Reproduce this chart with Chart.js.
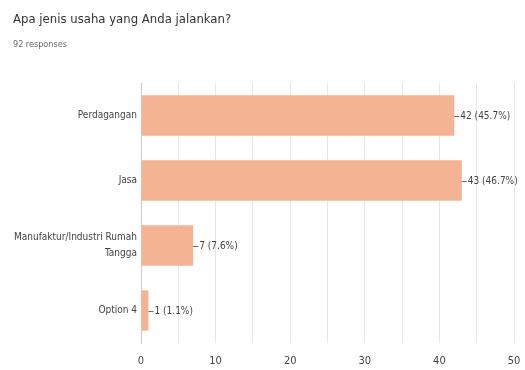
<!DOCTYPE html>
<html>
<head>
<meta charset="utf-8">
<script src="https://cdn.jsdelivr.net/npm/chart.js@4.4.0/dist/chart.umd.min.js"></script>
<style>
  html, body { margin: 0; padding: 0; background: #fff; }
  #wrap { width: 525px; height: 370px; position: relative; font-family: "Liberation Sans Narrow", "DejaVu Sans Condensed", Roboto, sans-serif; }
  #title { position: absolute; left: 13px; top: 11px; font-size: 13px; color: #333; white-space: nowrap; }
  #sub { position: absolute; left: 13px; top: 39px; font-size: 9px; color: #666; white-space: nowrap; }
</style>
</head>
<body>
<div id="wrap">
  <canvas id="chart"></canvas>
  <div id="title">Apa jenis usaha yang Anda jalankan?</div>
  <div id="sub"></div>
</div>
<script>
const categories = ['Perdagangan', 'Jasa', ['Manufaktur/Industri Rumah', 'Tangga'], 'Option 4'];
const counts = [42, 43, 7, 1];
const percents = ['45.7%', '46.7%', '7.6%', '1.1%'];
const totalResponses = 92;

document.getElementById('sub').textContent = totalResponses + ' responses';

const FONT = '"Liberation Sans Narrow", "DejaVu Sans Condensed", "Roboto", sans-serif';

// draws "42 (45.7%)" with a short leader line at the end of each bar
const valueLabels = {
    id: 'valueLabels',
    afterDatasetsDraw(chart) {
        const ctx = chart.ctx;
        const meta = chart.getDatasetMeta(0);
        ctx.save();
        ctx.font = '10px ' + FONT;
        ctx.fillStyle = '#444';
        ctx.strokeStyle = '#666';
        ctx.lineWidth = 1;
        ctx.textBaseline = 'middle';
        meta.data.forEach((bar, i) => {
            const x = bar.x, y = Math.round(bar.y) + 0.5;
            ctx.beginPath();
            ctx.moveTo(x, y);
            ctx.lineTo(x + 5, y);
            ctx.stroke();
            ctx.fillText(counts[i] + ' (' + percents[i] + ')', x + 6, y);
        });
        ctx.restore();
    }
};

new Chart(document.getElementById('chart').getContext('2d'), {
    type: 'bar',
    data: {
        labels: categories,
        datasets: [{
            data: counts,
            backgroundColor: '#f4b393',
            borderWidth: 0,
            categoryPercentage: 1,
            barPercentage: 0.62,
        }]
    },
    options: {
        indexAxis: 'y',
        responsive: true,
        maintainAspectRatio: false,
        animation: false,
        layout: { padding: { top: 83, right: 11, bottom: 0, left: 0 } },
        plugins: {
            legend: { display: false },
            tooltip: { enabled: false },
        },
        scales: {
            x: {
                min: 0,
                max: 50,
                ticks: {
                    stepSize: 5,
                    color: '#444',
                    font: { family: FONT, size: 11 },
                    callback: v => (v % 10 === 0 ? v : ''),
                    padding: 12,
                },
                grid: { color: '#e6e6e6', drawTicks: false },
                border: { display: false },
                afterFit: s => { s.height = 27; s.paddingRight = 0; s.paddingLeft = 0; },
            },
            y: {
                ticks: {
                    color: '#444',
                    font: { family: FONT, size: 10, lineHeight: 1.6 },
                    padding: 4,
                },
                grid: { display: false, drawTicks: false },
                border: { color: '#ccc' },
                afterFit: s => { s.width = 141; },
            }
        }
    },
    plugins: [valueLabels]
});
</script>
</body>
</html>
